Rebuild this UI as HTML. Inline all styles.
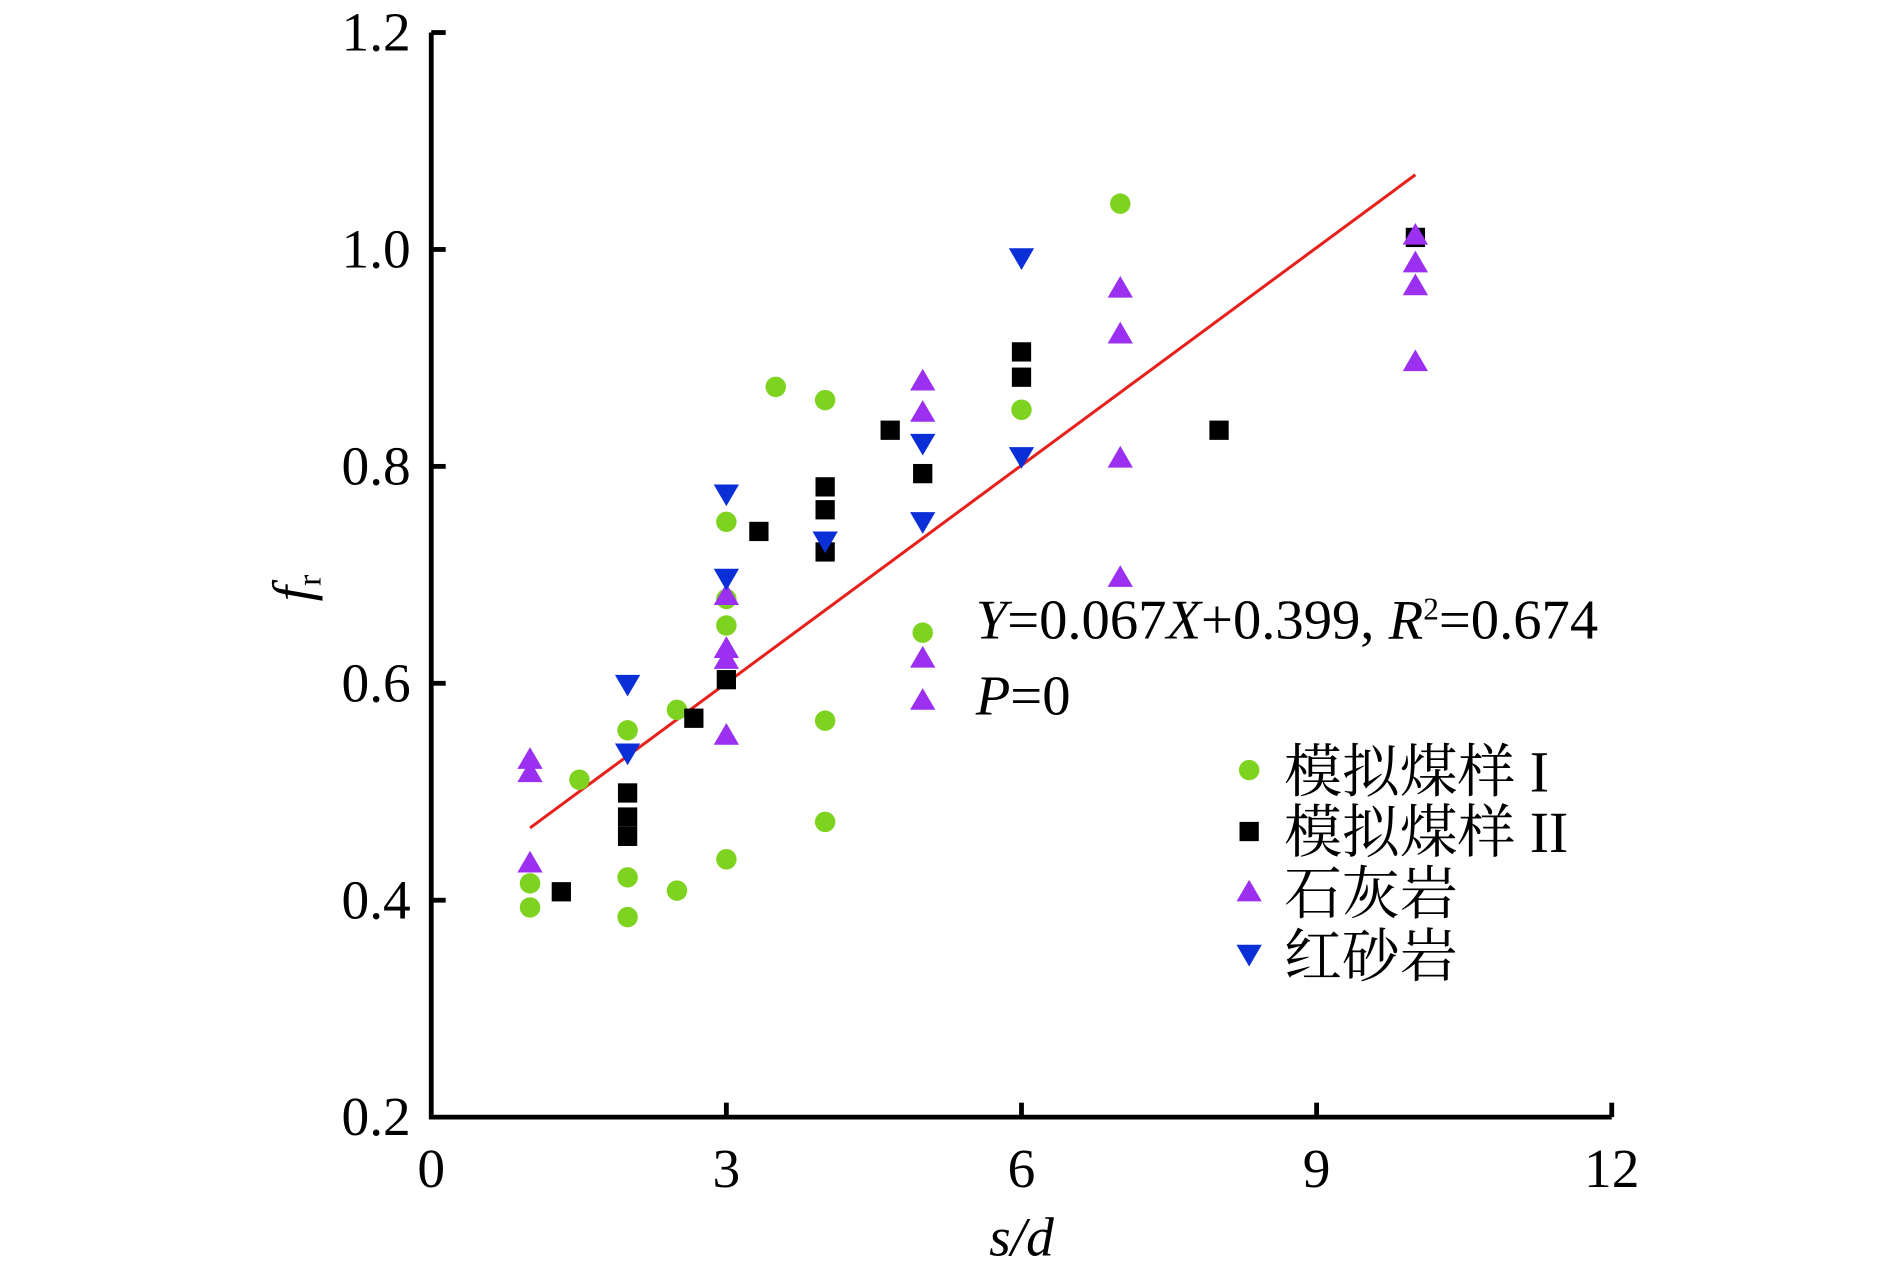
<!DOCTYPE html>
<html><head><meta charset="utf-8"><style>
html,body{margin:0;padding:0;background:#fff;}
svg{display:block;}
text{font-family:"Liberation Serif","Noto Serif CJK SC",serif;fill:#000;}
</style></head><body>
<svg width="1890" height="1275" viewBox="0 0 1569 1058" preserveAspectRatio="none" xmlns="http://www.w3.org/2000/svg">
<defs>
<circle id="c" r="8.5" fill="#7ed321"/>
<rect id="s" x="-8" y="-8" width="16" height="16" fill="#000"/>
<polygon id="u" points="0,-10 10.5,8 -10.5,8" fill="#9b30f0"/>
<polygon id="d" points="-10.5,-8 10.5,-8 0,10" fill="#0a2fd6"/>
</defs>
<g stroke="#000" stroke-width="4" fill="none">
<polyline points="358,27 358,927 1338,927"/>
<line x1="358" y1="27" x2="370" y2="27"/><line x1="358" y1="207" x2="370" y2="207"/>
<line x1="358" y1="387" x2="370" y2="387"/><line x1="358" y1="567" x2="370" y2="567"/>
<line x1="358" y1="747" x2="370" y2="747"/>
<line x1="603" y1="927" x2="603" y2="915"/><line x1="848" y1="927" x2="848" y2="915"/>
<line x1="1093" y1="927" x2="1093" y2="915"/><line x1="1338" y1="927" x2="1338" y2="915"/>
</g>
<g font-size="46" text-anchor="end">
<text x="341" y="42">1.2</text><text x="341" y="222">1.0</text><text x="341" y="402">0.8</text>
<text x="341" y="582">0.6</text><text x="341" y="762">0.4</text><text x="341" y="942">0.2</text>
</g>
<g font-size="46" text-anchor="middle">
<text x="358" y="985">0</text><text x="603" y="985">3</text><text x="848" y="985">6</text>
<text x="1093" y="985">9</text><text x="1338" y="985">12</text>
<text x="848" y="1042" font-style="italic">s/d</text>
</g>
<text x="0" y="0" font-size="46" font-style="italic" transform="translate(258,499) rotate(-90)">f<tspan font-size="28" font-style="normal" dy="8">r</tspan></text>
<line x1="440" y1="687" x2="1175" y2="145" stroke="#e8201c" stroke-width="2.5"/>
<g>
<use href="#c" x="440" y="753"/><use href="#c" x="440" y="733"/><use href="#c" x="481" y="647"/><use href="#c" x="521" y="761"/><use href="#c" x="521" y="728"/><use href="#c" x="521" y="606"/><use href="#c" x="562" y="739"/><use href="#c" x="562" y="589"/><use href="#c" x="603" y="713"/><use href="#c" x="603" y="519"/><use href="#c" x="603" y="497"/><use href="#c" x="603" y="433"/><use href="#c" x="644" y="321"/><use href="#c" x="685" y="332"/><use href="#c" x="685" y="598"/><use href="#c" x="685" y="682"/><use href="#c" x="766" y="525"/><use href="#c" x="848" y="340"/><use href="#c" x="930" y="169"/>
<use href="#s" x="466" y="740"/><use href="#s" x="521" y="658"/><use href="#s" x="521" y="678"/><use href="#s" x="521" y="694"/><use href="#s" x="576" y="596"/><use href="#s" x="603" y="564"/><use href="#s" x="630" y="441"/><use href="#s" x="685" y="404"/><use href="#s" x="685" y="423"/><use href="#s" x="685" y="458"/><use href="#s" x="739" y="357"/><use href="#s" x="766" y="393"/><use href="#s" x="848" y="292"/><use href="#s" x="848" y="313"/><use href="#s" x="1012" y="357"/><use href="#s" x="1175" y="197"/>
<use href="#u" x="440" y="630"/><use href="#u" x="440" y="641"/><use href="#u" x="440" y="716"/><use href="#u" x="603" y="538"/><use href="#u" x="603" y="547"/><use href="#u" x="603" y="610"/><use href="#u" x="603" y="494"/><use href="#u" x="766" y="316"/><use href="#u" x="766" y="342"/><use href="#u" x="930" y="239"/><use href="#u" x="930" y="277"/><use href="#u" x="930" y="380"/><use href="#u" x="930" y="479"/><use href="#u" x="1175" y="195"/><use href="#u" x="1175" y="218"/><use href="#u" x="1175" y="237"/><use href="#u" x="1175" y="300"/><use href="#u" x="766" y="546"/><use href="#u" x="766" y="581"/>
<use href="#d" x="521" y="568"/><use href="#d" x="521" y="625"/><use href="#d" x="603" y="410"/><use href="#d" x="603" y="480"/><use href="#d" x="685" y="449"/><use href="#d" x="766" y="368"/><use href="#d" x="766" y="433"/><use href="#d" x="848" y="214"/><use href="#d" x="848" y="379"/>
</g>
<text x="810" y="530" font-size="47"><tspan font-style="italic">Y</tspan>=0.067<tspan font-style="italic">X</tspan>+0.399, <tspan font-style="italic">R</tspan><tspan font-size="26" dy="-16">2</tspan><tspan dy="16">=0.674</tspan></text>
<text x="810" y="593" font-size="47"><tspan font-style="italic">P</tspan>=0</text>
<use href="#c" x="1037" y="639"/><use href="#s" x="1037" y="690"/><use href="#u" x="1037" y="740"/><use href="#d" x="1037" y="792"/>
<g font-size="48">
<text x="1066" y="657">模拟煤样 I</text><text x="1066" y="707">模拟煤样 II</text>
<text x="1066" y="758">石灰岩</text><text x="1066" y="810">红砂岩</text>
</g>
</svg>
</body></html>
